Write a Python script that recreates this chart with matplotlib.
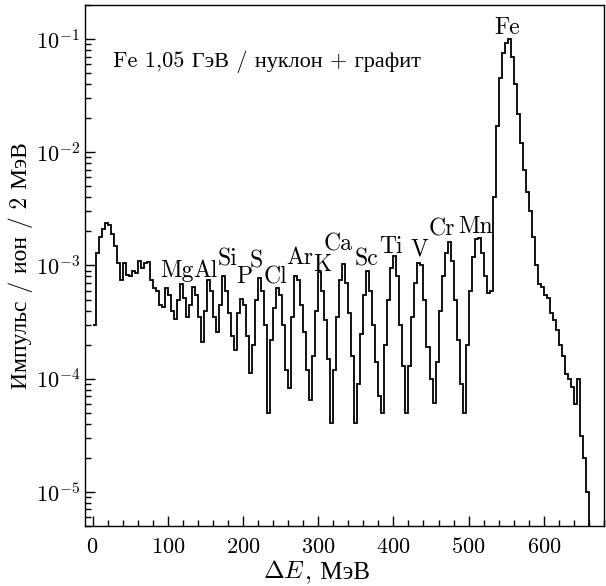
import numpy as np
import matplotlib
matplotlib.use('Agg')
import matplotlib.pyplot as plt
from matplotlib.ticker import LogLocator, MultipleLocator, NullFormatter

# Computer Modern для латиницы, кириллица берётся из запасного шрифта
plt.rcParams['font.family'] = ['cmr10', 'Liberation Serif']
plt.rcParams['mathtext.fontset'] = 'cm'
plt.rcParams['axes.unicode_minus'] = False
plt.rcParams['axes.formatter.use_mathtext'] = True

# ---- данные: спектр потерь энергии, бины по 4 МэВ начиная с 0 ----
bin_width = 4
counts = [
    3.0e-4, 1.3e-3, 1.8e-3, 2.1e-3, 2.35e-3, 2.3e-3, 1.9e-3, 1.5e-3, 1.05e-3, 7.5e-4,    # 0-40
    1.05e-3, 8.2e-4, 8.0e-4, 9.0e-4, 8.5e-4, 1.1e-3, 9.5e-4, 1.05e-3, 1.08e-3, 7.4e-4,   # 40-80
    6.3e-4, 6.0e-4, 4.5e-4, 4.3e-4, 6.3e-4, 5.5e-4, 4.0e-4, 3.4e-4, 5.0e-4, 6.9e-4,     # 80-120
    5.2e-4, 3.5e-4, 4.5e-4, 6.4e-4, 5.5e-4, 3.5e-4, 2.1e-4, 4.0e-4, 7.4e-4, 6.0e-4,     # 120-160
    3.5e-4, 2.6e-4, 4.5e-4, 8.0e-4, 6.0e-4, 3.8e-4, 2.4e-4, 1.8e-4, 3.8e-4, 5.1e-4,     # 160-200
    4.5e-4, 2.4e-4, 1.13e-4, 2.0e-4, 5.0e-4, 7.7e-4, 6.0e-4, 3.0e-4, 5.0e-5, 2.2e-4,    # 200-240
    4.2e-4, 6.3e-4, 5.5e-4, 3.0e-4, 1.2e-4, 8.3e-5, 3.5e-4, 8.0e-4, 7.5e-4, 4.5e-4,     # 240-280
    2.6e-4, 1.2e-4, 6.5e-5, 1.6e-4, 4.0e-4, 8.7e-4, 6.0e-4, 3.3e-4, 1.5e-4, 4.1e-5,     # 280-320
    1.2e-4, 3.5e-4, 7.5e-4, 1.04e-3, 7.0e-4, 3.8e-4, 1.6e-4, 4.1e-5, 9.0e-5, 2.5e-4,    # 320-360
    5.5e-4, 9.0e-4, 6.0e-4, 3.0e-4, 1.4e-4, 7.0e-5, 5.0e-5, 2.0e-4, 5.0e-4, 9.5e-4,     # 360-400
    1.22e-3, 8.0e-4, 3.0e-4, 1.3e-4, 5.0e-5, 1.3e-4, 3.5e-4, 7.0e-4, 1.06e-3, 1.0e-3,   # 400-440
    5.0e-4, 1.9e-4, 1.0e-4, 6.1e-5, 1.4e-4, 4.0e-4, 8.0e-4, 1.3e-3, 1.62e-3, 1.1e-3,    # 440-480
    5.0e-4, 2.2e-4, 9.0e-5, 5.0e-5, 2.0e-4, 6.0e-4, 1.2e-3, 1.7e-3, 1.76e-3, 1.3e-3,    # 480-520
    8.0e-4, 5.7e-4, 6.0e-4, 4.0e-3, 1.7e-2, 4.5e-2, 7.5e-2, 9.3e-2, 1.0e-1, 7.0e-2,     # 520-560
    4.0e-2, 2.2e-2, 1.2e-2, 7.0e-3, 4.5e-3, 3.0e-3, 1.8e-3, 1.0e-3, 6.9e-4, 6.5e-4,     # 560-600
    5.5e-4, 5.2e-4, 3.8e-4, 3.3e-4, 2.7e-4, 2.0e-4, 1.6e-4, 1.1e-4, 1.0e-4, 8.5e-5,     # 600-640
    6.0e-5, 1.0e-4, 3.1e-5, 2.0e-5, 1.0e-5, 1e-8,                                       # 640-664
]

# подписи пиков ядер-фрагментов
element_names = ['Mg', 'Al', 'Si', 'P', 'S', 'Cl', 'Ar', 'K', 'Ca', 'Sc',
                 'Ti', 'V', 'Cr', 'Mn', 'Fe']
label_x = [112, 150, 180, 202, 218, 243, 275.5, 306, 327, 364,
           397, 435, 465, 509, 551.5]
label_y = [7.85e-4, 7.85e-4, 1.0e-3, 6.95e-4, 9.6e-4, 6.95e-4, 1.04e-3, 9.0e-4,
           1.35e-3, 1.0e-3, 1.3e-3, 1.22e-3, 1.83e-3, 1.95e-3, 0.111]

values = np.array(counts)
edges = np.arange(len(values) + 1) * bin_width

fig = plt.figure(figsize=(6.06, 5.86), dpi=100)
ax = fig.add_axes([0.1403, 0.1024, 0.8564, 0.8891])

ax.stairs(values, edges, baseline=None, color='black', linewidth=1.3)

ax.set_yscale('log')
ax.set_xlim(-10, 680)
ax.set_ylim(5e-6, 0.2)

ax.xaxis.set_major_locator(MultipleLocator(100))
ax.xaxis.set_minor_locator(MultipleLocator(20))
ax.yaxis.set_major_locator(LogLocator(base=10, numticks=10))
ax.yaxis.set_minor_locator(LogLocator(base=10, subs=np.arange(2, 10), numticks=20))
ax.yaxis.set_minor_formatter(NullFormatter())

ax.tick_params(which='both', direction='in', top=False, right=False,
               labelsize=16, width=1.0)
ax.tick_params(which='major', length=7)
ax.tick_params(which='minor', length=4.5)
ax.tick_params(axis='x', pad=8)
for sp in ax.spines.values():
    sp.set_linewidth(1.0)

for name, x, y in zip(element_names, label_x, label_y):
    ax.text(x, y, name, ha='center', va='baseline', fontsize=17)

ax.text(0.054, 0.881, 'Fe 1,05 ГэВ / нуклон + графит', transform=ax.transAxes,
        ha='left', va='baseline', fontsize=16)

# подпись оси X: курсивная E из mathtext, кириллица отдельным текстом
xl = ax.text(0.424, -0.100, r'$\Delta E$', transform=ax.transAxes,
             ha='right', va='baseline', fontsize=18)
ax.annotate(', МэВ', xy=(1, 0), xycoords=xl, ha='left', va='bottom',
            fontsize=18)

ax.set_ylabel('Импульс / ион / 2 МэВ', fontsize=17, labelpad=2)

fig.savefig('out.png', dpi=100)
